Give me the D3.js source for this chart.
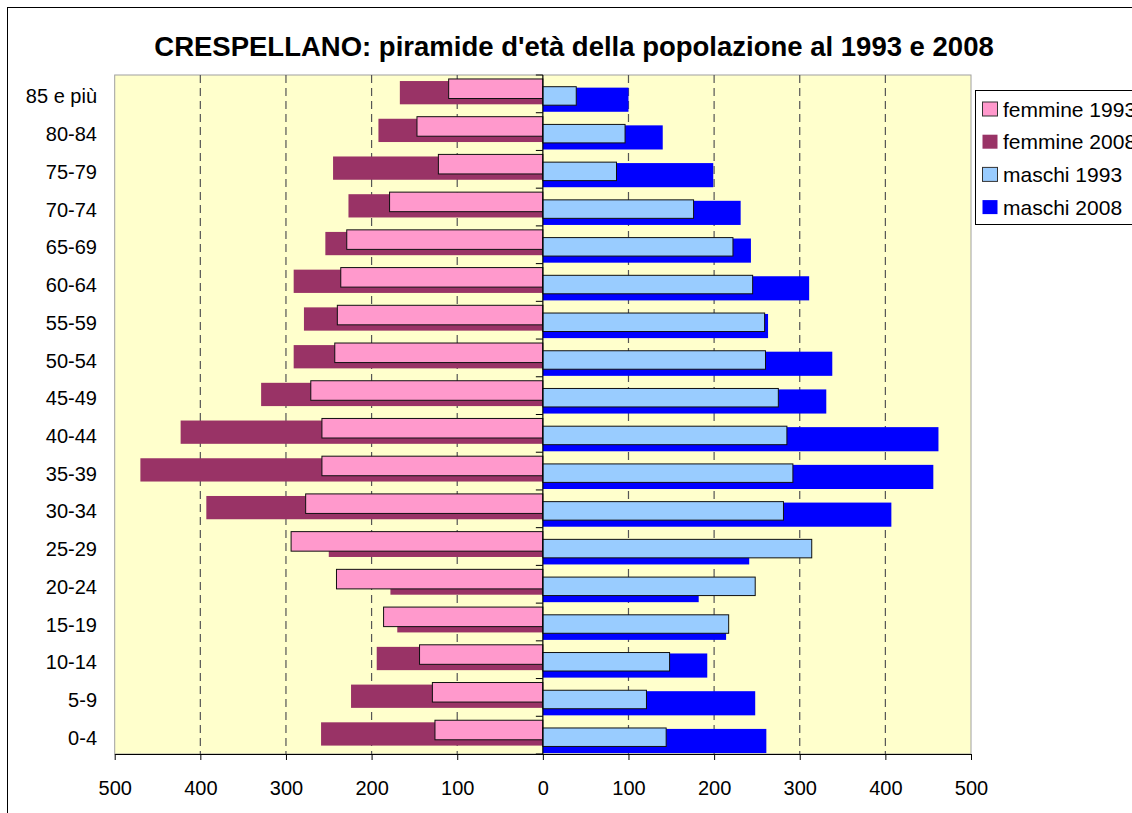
<!DOCTYPE html>
<html><head><meta charset="utf-8">
<script src="https://cdn.jsdelivr.net/npm/d3@7"></script>
<style>
body{margin:0;background:#fff;}
svg{display:block;}
text{font-family:"Liberation Sans",Arial,sans-serif;fill:#000;}
</style>
</head><body>
<svg id="c" width="1132" height="813"></svg>
<script>
// ---- data ----
const categories = ["85 e più","80-84","75-79","70-74","65-69","60-64","55-59","50-54","45-49","40-44","35-39","30-34","25-29","20-24","15-19","10-14","5-9","0-4"];
const femmine1993 = [110,147,122,179,229,236,240,243,271,258,258,277,294,241,186,144,129,126];
const femmine2008 = [167,192,245,227,254,291,279,291,329,423,470,393,250,178,170,194,224,259];
const maschi1993  = [39,96,86,176,222,245,259,260,275,285,292,281,314,248,217,148,121,144];
const maschi2008  = [100,140,199,231,243,311,263,338,331,462,456,407,241,182,214,192,248,261];
const seriesNames = ["femmine 1993","femmine 2008","maschi 1993","maschi 2008"];
const xTicks = [-500,-400,-300,-200,-100,0,100,200,300,400,500];
const titleText = "CRESPELLANO: piramide d'età della popolazione al 1993 e 2008";

// ---- layout / style ----
const plot = {left:114.7, right:971, top:75, bottom:754};
const colors = {"femmine 1993":"#FF99CC","femmine 2008":"#993366","maschi 1993":"#99CCFF","maschi 2008":"#0000FF"};
// vertical placement of each series inside a category band (fractions of band)
const slot = {"femmine 1993":[0.105,0.623],"femmine 2008":[0.16,0.777],"maschi 1993":[0.31,0.80],"maschi 2008":[0.335,0.975]};

const svg = d3.select("#c");
// outer chart border
svg.append("rect").attr("x",7.5).attr("y",7.5).attr("width",1300).attr("height",1000)
  .attr("fill","#fff").attr("stroke","#000").attr("stroke-width",1);

const x = d3.scaleLinear().domain([-500,500]).range([plot.left, plot.right]);
const y = d3.scaleBand().domain(categories).range([plot.top, plot.bottom]).padding(0);
const bw = y.bandwidth();

// plot area
svg.append("rect").attr("x",plot.left).attr("y",plot.top)
  .attr("width",plot.right-plot.left).attr("height",plot.bottom-plot.top)
  .attr("fill","#FFFFCC").attr("stroke","#A0A0A0").attr("stroke-width",1);

// dashed gridlines
svg.append("g").selectAll("line").data(xTicks.filter(d=>d!==0 && Math.abs(d)!==500)).join("line")
  .attr("x1",d=>x(d)).attr("x2",d=>x(d)).attr("y1",plot.top).attr("y2",plot.bottom)
  .attr("stroke","#555").attr("stroke-width",1.2).attr("stroke-dasharray","8,5");

function drawSeries(name, values, female, stroke){
  const [a,b] = slot[name];
  svg.append("g").selectAll("rect").data(values).join("rect")
    .attr("x",(v)=> female ? x(-v) : x(0))
    .attr("width",(v)=> female ? x(0)-x(-v) : x(v)-x(0))
    .attr("y",(v,i)=> y(categories[i]) + a*bw)
    .attr("height",(b-a)*bw)
    .attr("fill",colors[name])
    .attr("stroke",stroke ? "#111" : "none")
    .attr("stroke-width",1);
}
drawSeries("femmine 2008", femmine2008, true, false);
drawSeries("maschi 2008", maschi2008, false, false);
drawSeries("femmine 1993", femmine1993, true, true);
drawSeries("maschi 1993", maschi1993, false, true);

// vertical category axis at zero
svg.append("line").attr("x1",x(0)).attr("x2",x(0)).attr("y1",plot.top).attr("y2",plot.bottom)
  .attr("stroke","#000").attr("stroke-width",1.2);
const bounds = categories.map(c=>y(c)).concat([plot.bottom]);
svg.append("g").selectAll("line").data(bounds).join("line")
  .attr("x1",x(0)-7).attr("x2",x(0)).attr("y1",d=>d).attr("y2",d=>d)
  .attr("stroke","#000").attr("stroke-width",1);

// bottom value axis
const gx = svg.append("g").attr("transform",`translate(0,${plot.bottom})`)
  .call(d3.axisBottom(x).tickValues(xTicks).tickFormat(d=>Math.abs(d)).tickSize(6).tickSizeOuter(0).tickPadding(21));
gx.select(".domain").attr("stroke","#000");
gx.selectAll(".tick line").attr("stroke","#000");
gx.selectAll("text").attr("font-size",20).attr("font-family",null);

// category labels
const gy = svg.append("g").attr("transform","translate(97,0)")
  .call(d3.axisLeft(y).tickSize(0).tickPadding(0));
gy.select(".domain").remove();
gy.selectAll("text").attr("font-size",20).attr("dy","0.48em").attr("font-family",null);

// title
svg.append("text").attr("x",574).attr("y",56).attr("text-anchor","middle")
  .attr("font-size",27.5).attr("font-weight","bold").text(titleText);

// legend
const lg = svg.append("g");
lg.append("rect").attr("x",975.5).attr("y",90.5).attr("width",300).attr("height",134)
  .attr("fill","#fff").attr("stroke","#000").attr("stroke-width",1);
const items = lg.selectAll("g.item").data(seriesNames).join("g").attr("class","item")
  .attr("transform",(d,i)=>`translate(0,${109 + i*32.7})`);
items.append("rect").attr("x",982.5).attr("y",-7).attr("width",15).attr("height",14)
  .attr("fill",d=>colors[d]).attr("stroke",d=>d.endsWith("1993") ? "#333" : "none");
items.append("text").attr("x",1003).attr("y",0).attr("dy","0.36em").attr("font-size",21).text(d=>d);
</script>
</body></html>
